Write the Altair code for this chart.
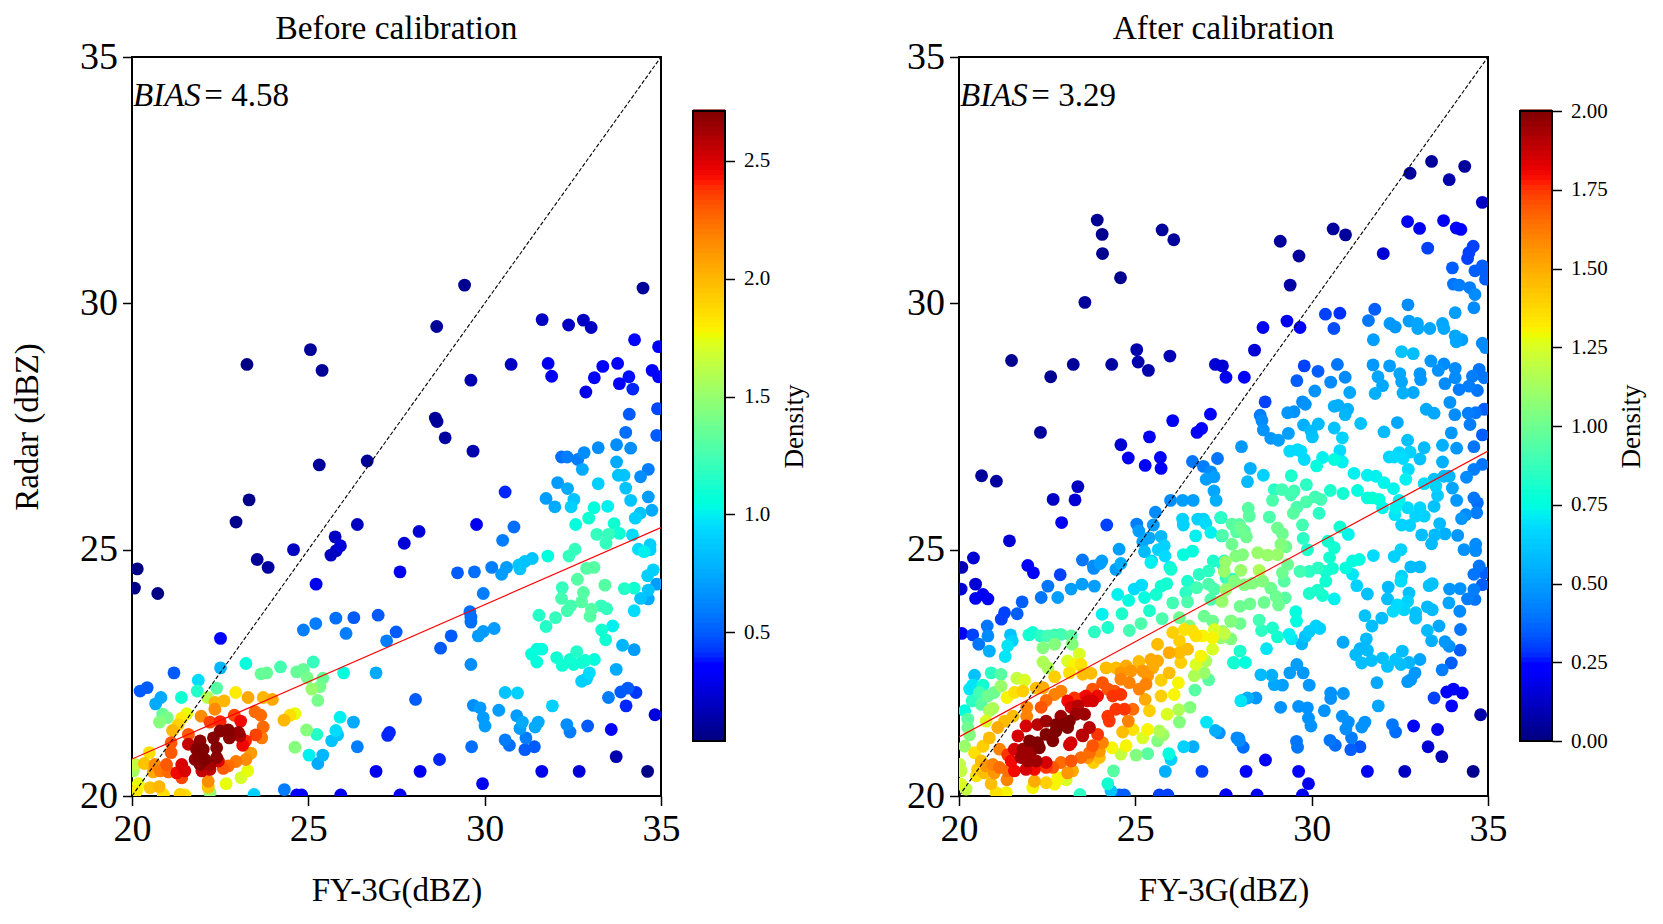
import altair as alt
import numpy as np
import pandas as pd

# (FY-3G dBZ, Radar dBZ, density)
left_upper = [(20.15,24.61,.05),(20.07,24.22,.05),(20.73,24.11,.05),(23.26,28.76,.05),(25.06,29.06,.1),(25.39,28.64,.1),(29.43,30.37,.08),(28.64,29.53,.1),(34.49,30.31,.1),(31.63,29.67,.2),(32.38,29.56,.2),(32.8,29.66,.2),(33.02,29.51,.2),(34.25,29.26,.35),(34.93,29.12,.3),(31.8,28.78,.3),(31.9,28.52,.3),(30.75,28.76,.2),(29.61,28.44,.15),(33.35,28.72,.35),(33.77,28.78,.35),(34.09,28.51,.38),(33.11,28.49,.35),(32.87,28.2,.3),(33.82,28.37,.37),(34.2,28.26,.4),(34.75,28.64,.35),(34.93,28.51,.35),(34.1,27.75,.5),(34.9,27.86,.45),(28.6,27.67,.1),(28.65,27.6,.1),(28.88,27.27,.12),(29.67,27.0,.15),(26.67,26.8,.1),(25.31,26.72,.1),(23.32,26.01,.07),(22.95,25.56,.07),(23.55,24.8,.1),(23.86,24.64,.12),(24.58,25.0,.2),(25.22,24.3,.3),(25.64,24.89,.2),(25.76,25.26,.2),(25.79,24.98,.2),(25.91,25.08,.25),(26.39,25.51,.2),(27.72,25.13,.25),(28.14,25.37,.25),(27.6,24.55,.3)]
left_mid = [(30.58,26.17,.4),(34.0,27.38,.55),(34.88,27.32,.5),(33.22,27.07,.65),(33.74,27.13,.65),(34.14,27.06,.65),(32.18,26.88,.55),(32.34,26.88,.6),(32.64,26.83,.6),(32.82,26.97,.65),(33.74,26.78,.75),(32.77,26.63,.75),(34.64,26.63,.6),(34.42,26.48,.65),(33.79,26.51,.85),(33.95,26.51,.85),(32.07,26.36,.7),(32.35,26.24,.75),(33.22,26.34,.9),(34.0,26.25,.85),(34.64,26.07,.7),(31.74,26.04,.7),(31.99,25.87,.75),(32.53,26.02,.85),(32.45,25.87,.9),(34.14,26.0,.85),(34.74,25.8,.75),(34.41,25.74,.85),(34.27,25.64,.9),(33.1,25.85,1.05),(33.49,25.88,1.0),(32.95,25.64,1.1),(32.58,25.51,1.05),(33.67,25.53,1.1),(33.18,25.31,1.2),(33.51,25.31,1.2),(33.44,25.13,1.2),(33.82,25.33,1.1),(34.19,25.3,.95),(34.36,25.01,.95),(34.52,24.96,1.0),(34.69,25.1,.9),(34.69,25.0,.9),(32.56,25.01,1.2),(32.39,24.87,1.2),(31.79,24.87,1.05),(31.35,24.82,.85),(31.14,24.76,.85),(30.97,24.69,.85),(30.62,24.64,.7),(30.2,24.64,.6),(30.83,25.46,.55),(30.51,25.19,.6),(29.77,25.51,.3)]
left_low = [(29.23,24.53,.5),(29.71,24.55,.55),(30.48,24.5,.7),(31.0,24.61,.85),(29.96,24.11,.6),(29.58,23.74,.55),(29.61,23.63,.55),(29.61,23.53,.55),(30.27,23.4,.7),(29.96,23.34,.7),(29.82,23.25,.7),(29.05,23.25,.5),(28.75,23.0,.5),(29.61,22.67,.65),(28.04,21.96,.5),(32.2,24.23,1.2),(32.18,24.01,1.25),(32.63,24.4,1.3),(32.8,24.13,1.3),(32.75,23.94,1.3),(32.44,23.86,1.25),(32.34,23.76,1.25),(32.99,23.65,1.3),(33.03,23.79,1.3),(33.3,23.86,1.2),(33.46,23.8,1.2),(33.41,24.28,1.3),(32.89,24.62,1.3),(33.1,24.64,1.3),(31.54,23.67,1.15),(32.01,23.62,1.2),(31.74,23.44,1.15),(33.32,23.37,1.1),(33.63,23.45,1.0),(33.43,23.17,1.1),(33.96,24.21,1.15),(34.24,24.22,1.1),(34.62,24.47,.9),(34.78,24.59,.9),(34.64,24.18,.85),(34.42,24.01,.85),(34.64,24.0,.75),(34.88,24.3,.7),(34.24,23.76,.95),(33.91,23.06,.8),(34.24,22.97,.7),(33.73,22.57,.75),(31.33,22.88,1.05),(31.48,22.98,1.05),(31.62,22.98,1.05),(31.48,22.72,1.05),(32.04,22.81,1.1),(32.2,22.65,1.1),(32.42,22.77,1.1),(32.61,22.93,1.15),(32.52,22.67,1.1),(32.75,22.71,1.1),(32.85,22.75,1.1),(33.11,22.77,1.05),(32.97,22.5,.95),(32.75,22.33,.9),(32.89,22.38,.9),(30.58,22.1,.85),(30.93,22.09,.9),(31.92,21.83,.9),(33.51,22.0,.6),(33.86,22.11,.5),(34.06,22.19,.5),(34.29,22.1,.42),(34.01,21.83,.4),(34.83,21.65,.25),(29.68,21.84,.65),(29.87,21.79,.7),(29.96,21.59,.7),(30.01,21.42,.7),(30.4,21.74,.7),(30.91,21.63,.7),(31.07,21.5,.75),(31.0,21.37,.7),(31.17,21.18,.6),(31.52,21.5,.75),(31.43,21.4,.75),(32.33,21.45,.65),(32.42,21.3,.6),(32.92,21.42,.5),(33.59,21.35,.35),(30.58,21.14,.6),(30.7,21.03,.55),(31.14,20.94,.5),(31.41,21.0,.5),(29.63,21.0,.55),(28.72,20.74,.4),(28.17,20.5,.3),(31.62,20.5,.3),(32.68,20.5,.25),(33.73,20.8,.15),(34.62,20.5,.05),(29.94,20.25,.3)]
left_cluster = [(22.51,23.2,.35),(21.19,22.5,.5),(20.23,22.13,.5),(20.43,22.2,.5),(24.86,23.37,.6),(25.21,23.5,.6),(25.78,23.61,.55),(26.29,23.62,.5),(26.07,23.3,.6),(26.98,23.67,.5),(27.49,23.33,.5),(27.22,23.15,.6),(22.51,22.6,.8),(23.23,22.69,1.05),(21.88,22.35,.95),(21.85,22.13,1.15),(21.4,22.0,1.1),(20.82,22.0,.75),(20.67,21.87,.75),(22.4,22.19,1.3),(22.14,22.0,1.6),(22.94,22.1,1.8),(23.29,22.0,2.05),(23.72,22.0,2.0),(23.98,21.96,2.05),(22.35,21.9,2.0),(22.61,21.93,2.0),(22.35,21.76,2.15),(21.96,21.62,2.15),(20.87,21.66,1.35),(21.0,21.59,1.4),(20.78,21.5,1.45),(21.55,21.67,1.75),(21.41,21.58,1.8),(21.31,21.45,1.9),(21.15,21.33,2.0),(22.9,21.64,2.35),(23.08,21.52,2.45),(22.21,21.5,2.35),(22.5,21.51,2.4),(23.49,21.71,2.25),(23.65,21.64,2.25),(23.72,21.4,2.25),(23.51,21.24,2.35),(23.68,21.18,2.2),(23.22,21.12,2.4),(23.14,21.03,2.45),(21.6,21.25,2.3),(21.6,21.05,2.55),(21.11,21.08,2.3),(21.11,20.88,2.3),(20.49,20.88,1.85),(22.5,21.32,2.7),(22.73,21.34,2.7),(23.02,21.29,2.65),(23.06,21.22,2.6),(22.76,21.18,2.68),(22.31,21.18,2.7),(21.93,21.12,2.68),(22.4,20.98,2.7),(22.02,20.95,2.71),(21.83,20.95,2.7),(21.93,20.78,2.7),(22.07,20.74,2.71),(22.4,20.78,2.68),(21.79,20.74,2.68),(21.93,20.64,2.68),(22.21,20.63,2.62),(21.98,20.51,2.55),(22.21,20.54,2.55),(22.45,20.71,2.5),(21.41,20.64,2.5),(21.27,20.47,2.45),(21.5,20.51,2.5),(21.41,20.37,2.35),(20.98,20.64,2.3),(21.03,20.49,2.25),(20.8,20.51,2.2),(20.65,20.64,2.15),(20.6,20.49,2.05),(22.59,20.56,2.3),(22.73,20.61,2.25),(22.95,20.7,2.2),(23.23,20.74,2.15),(23.37,20.87,2.1),(22.16,20.3,2.15),(22.16,20.18,1.95),(23.28,20.51,1.75),(23.09,20.37,1.7),(22.67,20.25,1.75),(20.35,20.66,1.95),(20.09,20.64,1.65),(20.04,20.51,1.55),(20.18,20.25,1.75),(20.51,20.17,1.95),(20.77,20.19,2.0),(20.13,20.1,1.8),(20.89,20.03,1.85),(21.36,20.03,1.9),(21.5,20.02,1.85),(22.21,20.07,1.5),(24.31,21.54,2.0),(24.48,21.64,1.85),(24.62,21.67,1.75),(23.46,20.03,.9),(24.32,20.13,.6),(24.67,20.02,.35),(24.81,20.02,.35),(25.92,20.02,.3),(27.6,20.02,.3),(23.66,22.48,1.35),(23.82,22.5,1.35),(24.21,22.62,1.25),(24.67,22.52,1.35),(24.86,22.57,1.35),(25.14,22.72,1.2),(24.97,22.4,1.4),(25.41,22.39,1.35),(25.33,22.22,1.4),(25.1,22.17,1.5),(25.27,21.94,1.4),(26.0,22.5,1.05),(26.92,22.5,.75),(25.9,21.6,1.0),(26.28,21.5,.75),(24.95,21.34,1.45),(25.24,21.25,1.15),(25.78,21.33,.95),(25.83,21.24,.85),(25.66,21.12,.85),(26.39,21.0,.6),(27.3,21.29,.4),(27.25,21.23,.4),(24.62,20.99,1.45),(25.02,20.83,1.0),(25.41,20.83,.8),(25.27,20.66,.75),(26.92,20.5,.3)]

right_upper = [(23.92,31.69,.03),(24.06,31.4,.03),(24.07,31.01,.03),(24.58,30.52,.03),(23.57,30.02,.05),(25.76,31.49,.05),(26.09,31.29,.05),(21.49,28.84,.03),(22.6,28.51,.03),(23.24,28.76,.05),(24.33,28.76,.06),(25.04,29.06,.08),(25.08,28.81,.08),(25.37,28.64,.08),(25.98,28.93,.1),(27.27,28.76,.15),(27.47,28.73,.15),(27.57,28.5,.2),(22.31,27.38,.05),(27.13,27.75,.25),(26.06,27.62,.2),(26.88,27.46,.22),(26.75,27.38,.22),(25.4,27.29,.2),(24.59,27.13,.15),(24.8,26.86,.2),(25.28,26.71,.25),(25.71,26.87,.25),(25.73,26.65,.25),(26.62,26.79,.4),(26.93,26.69,.42),(27.33,26.85,.4),(27.14,26.58,.45),(27.01,26.43,.5),(27.23,26.48,.5),(27.23,26.19,.52),(27.29,26.0,.55),(20.64,26.5,.05),(21.06,26.39,.06),(23.37,26.28,.12),(22.67,26.02,.12),(23.29,26.01,.15),(26.0,26.0,.45),(26.34,26.0,.5),(26.64,26.0,.5),(25.57,25.76,.45),(22.91,25.55,.2),(24.19,25.5,.3),(25.04,25.52,.42),(25.51,25.5,.5),(25.1,25.38,.5),(25.21,25.16,.52),(25.39,25.24,.52),(25.73,25.27,.58),(26.34,25.62,.65),(26.36,25.5,.65),(26.77,25.62,.65),(26.93,25.62,.65),(27.0,25.53,.68),(27.42,25.65,.68),(26.71,25.28,.72),(27.14,25.35,.72),(27.45,25.28,.72),(21.43,25.18,.15),(20.41,24.83,.15),(21.95,24.68,.25),(20.08,24.64,.1),(24.54,25.01,.5),(23.5,24.79,.4),(24.05,24.77,.5),(23.81,24.67,.45),(24.59,24.72,.55),(25.26,24.96,.58),(25.82,25.08,.65),(25.65,25.0,.65),(25.84,24.87,.68),(25.46,24.77,.65),(25.98,24.64,.72),(26.36,24.9,.75),(26.62,24.97,.75),(27.21,24.77,.82),(27.52,24.77,.82)]
right_left_low = [(20.06,24.2,.15),(20.47,24.3,.15),(20.47,24.01,.2),(20.68,24.09,.2),(20.82,24.0,.2),(21.29,23.72,.3),(21.2,23.59,.3),(21.65,23.7,.35),(21.79,23.94,.35),(22.33,24.03,.4),(22.52,24.26,.4),(22.8,24.03,.5),(22.87,24.49,.3),(22.11,24.53,.25),(23.18,24.2,.5),(23.49,24.3,.5),(23.84,24.26,.5),(23.82,24.62,.45),(24.0,24.72,.5),(24.45,24.6,.5),(24.5,24.09,.72),(24.97,24.2,.68),(25.18,24.28,.68),(24.81,23.97,.75),(25.26,24.03,.75),(25.4,23.76,.82),(25.59,24.09,.8),(25.73,24.26,.8),(25.89,24.31,.8),(26.01,24.6,.8),(25.44,24.74,.72),(24.06,23.69,.72),(24.62,23.7,.82),(24.22,23.42,.82),(23.84,23.33,.85),(25.16,23.5,.92),(24.83,23.36,.9),(26.06,23.92,.9),(25.76,23.6,.92),(26.48,24.36,.82),(26.43,24.13,.85),(26.48,23.94,.92),(26.74,24.23,.9),(26.81,24.5,.85),(27.08,24.57,.85),(27.08,24.3,.92),(27.24,24.2,.92),(27.45,23.96,.9),(27.14,23.99,.92),(27.57,24.43,.85),(27.66,24.33,.9),(27.47,24.7,.8),(27.76,24.4,.85),(26.25,23.62,1.0),(26.53,23.45,1.05),(26.95,23.65,1.0),(27.19,23.55,1.0),(27.71,23.55,.9),(27.8,22.7,.75)]
right_band = [(26.06,23.32,1.4),(26.25,23.15,1.4),(25.63,23.08,1.45),(25.96,22.91,1.5),(26.25,22.91,1.45),(26.48,22.98,1.45),(26.39,23.38,1.35),(26.62,23.35,1.35),(26.72,23.25,1.35),(26.91,23.25,1.3),(27.19,23.21,1.3),(27.24,23.38,1.25),(27.52,23.3,1.2),(27.19,22.98,1.25),(26.86,22.84,1.3),(26.29,22.71,1.4),(26.72,22.67,1.25),(27.0,22.74,1.15),(26.95,22.5,1.1),(26.67,22.44,1.15),(27.08,22.36,.95),(26.69,22.15,.95),(24.17,22.6,1.45),(24.45,22.6,1.45),(25.1,22.73,1.45),(25.44,22.77,1.5),(25.63,22.74,1.5),(24.74,22.64,1.5),(24.59,22.5,1.55),(24.88,22.54,1.55),(25.21,22.54,1.55),(25.35,22.44,1.55),(25.49,22.6,1.5),(24.59,22.37,1.6),(24.83,22.3,1.6),(25.11,22.17,1.6),(25.3,22.27,1.6),(25.96,22.5,1.45),(25.73,22.35,1.4),(26.22,22.3,1.3),(26.1,22.06,1.3),(25.73,22.03,1.4),(25.28,21.96,1.5),(25.4,21.73,1.4),(23.13,22.5,1.35),(23.08,22.74,1.25),(23.41,22.88,1.25),(23.27,22.67,1.3),(23.46,22.67,1.35),(23.51,22.47,1.45),(23.74,22.49,1.45),(22.71,22.42,1.4),(22.38,22.72,1.15),(22.52,22.6,1.15),(22.71,23.08,1.05),(22.38,23.01,1.05),(23.21,23.08,1.05),(23.18,23.25,.95),(22.89,23.28,.9),(22.71,23.27,.9),(22.52,23.25,.9),(22.31,23.25,.85),(22.09,23.32,.8),(21.98,23.27,.8),(21.46,23.27,.6),(21.51,23.15,.65),(21.38,23.05,.7),(21.31,22.83,.7),(20.86,22.94,.55),(20.8,23.45,.4),(20.82,23.25,.45),(20.56,23.08,.4),(20.39,23.27,.3),(20.08,23.3,.2)]
right_corner = [(20.44,22.45,.6),(20.91,22.5,.85),(21.19,22.47,.95),(20.3,22.17,.7),(20.39,22.25,.7),(20.68,22.25,.8),(20.16,21.73,.75),(20.58,22.1,.9),(20.37,21.93,.85),(20.63,21.86,.95),(20.82,22.03,1.0),(21.0,22.1,1.0),(21.19,22.23,1.1),(21.64,22.39,1.2),(21.86,22.35,1.25),(21.36,22.0,1.3),(21.57,22.1,1.35),(21.81,22.13,1.4),(22.19,22.19,1.45),(22.38,22.2,1.5),(20.86,21.73,1.15),(20.96,21.78,1.15),(20.77,21.52,1.25),(20.25,21.56,.95),(20.25,21.39,1.0),(20.3,21.24,1.05),(20.16,21.01,1.1),(20.02,20.64,1.2),(20.06,20.51,1.2),(20.06,20.24,1.25),(20.2,20.14,1.2),(21.53,21.62,1.45),(21.29,21.52,1.45),(21.1,21.39,1.5),(20.86,21.18,1.45),(20.68,21.01,1.4),(20.44,20.88,1.35),(21.15,20.95,1.6),(20.63,20.71,1.45),(20.53,20.54,1.4),(20.77,20.61,1.55),(20.96,20.64,1.6),(20.72,20.47,1.45),(21.0,20.47,1.55),(20.91,20.25,1.45),(20.49,20.41,1.35),(21.36,20.33,1.6),(21.38,20.51,1.65),(21.15,20.58,1.65),(21.05,20.07,1.35),(21.34,20.07,1.3)]
right_peak = [(21.92,21.8,1.6),(22.33,21.8,1.7),(21.92,21.62,1.6),(22.47,21.94,1.65),(22.71,22.06,1.6),(22.89,22.13,1.6),(23.08,21.93,1.8),(23.27,21.99,1.75),(23.18,21.8,1.85),(23.51,21.99,1.75),(23.79,22.17,1.7),(23.6,22.03,1.8),(23.93,22.03,1.8),(24.07,22.3,1.7),(24.22,22.17,1.7),(24.41,22.13,1.7),(24.36,22.03,1.75),(24.59,22.06,1.75),(24.22,21.62,1.75),(24.45,21.76,1.75),(24.69,21.76,1.75),(24.93,21.76,1.65),(24.26,21.52,1.75),(24.8,21.52,1.6),(24.64,21.3,1.45),(24.93,21.35,1.35),(23.37,21.83,1.9),(23.65,21.93,1.85),(23.79,21.93,1.85),(23.7,21.39,1.9),(23.49,21.24,1.9),(23.93,21.25,1.75),(24.07,21.08,1.6),(23.13,21.04,1.85),(24.34,20.98,1.3),(23.79,21.02,1.7),(23.98,20.91,1.55),(23.7,20.88,1.65),(23.98,20.78,1.45),(23.65,20.78,1.55),(23.81,20.68,1.4),(23.22,20.51,1.5),(22.89,20.68,1.65),(22.66,20.58,1.7),(22.47,20.58,1.75),(23.08,20.47,1.55),(23.46,20.78,1.65),(23.18,20.71,1.7),(22.14,20.3,1.5),(22.47,20.27,1.4),(22.09,20.17,1.3),(22.8,20.37,1.3),(23.04,20.33,1.25),(22.71,20.24,1.3),(22.23,21.45,1.9),(22.47,21.52,1.95),(22.89,21.62,1.95),(23.13,21.52,2.0),(23.32,21.66,1.95),(23.56,21.66,1.95),(21.9,21.42,1.85),(23.08,21.39,2.0),(22.75,21.32,2.0),(22.47,21.25,2.0),(22.23,21.08,2.0),(22.0,21.12,2.0),(22.28,20.98,2.0),(22.04,20.91,1.95),(21.81,20.95,1.95),(21.67,21.22,1.85),(21.57,20.95,1.85),(21.76,20.78,1.95),(21.95,20.71,1.95),(22.19,20.71,1.95),(21.48,20.71,1.8),(21.38,20.84,1.75),(21.57,20.51,1.8),(21.9,20.54,1.85),(22.14,20.54,1.8),(22.47,20.68,1.85),(22.75,21.45,2.0),(22.99,21.45,2.0),(22.66,21.12,2.0),(23.51,21.22,1.9),(23.18,21.08,1.85)]
right_lower_mid = [(25.02,20.83,1.05),(25.35,20.86,.95),(25.21,21.18,1.25),(25.35,21.35,1.3),(25.68,21.32,1.15),(25.79,21.24,1.1),(25.63,21.12,1.05),(24.74,21.02,1.3),(24.59,20.85,1.2),(24.38,20.51,.95),(24.22,20.25,.8),(24.31,20.1,.6),(23.43,20.03,.85),(24.69,20.02,.35),(24.55,20.02,.35),(25.68,20.02,.3),(25.92,20.02,.3),(27.57,20.02,.2),(25.85,20.5,.55),(26.89,20.5,.3),(25.95,20.86,.75),(26.01,20.74,.65),(26.37,21.0,.65),(26.64,21.0,.55),(27.02,21.5,.7),(27.27,21.33,.55),(27.88,21.18,.45),(27.95,21.12,.45),(26.55,21.8,1.05),(26.23,21.75,1.15),(26.25,21.5,1.05),(25.9,21.66,1.25),(27.99,21.93,.7)]
right_top_right = [(32.79,32.64,.05),(33.4,32.88,.05),(34.34,32.78,.05),(33.9,32.51,.08),(34.84,32.05,.12),(30.61,31.51,.05),(30.96,31.39,.05),(29.11,31.26,.05),(29.64,30.96,.05),(29.39,30.37,.07),(32.03,31.01,.15),(32.72,31.66,.2),(33.06,31.52,.2),(33.74,31.68,.2),(34.1,31.53,.25),(34.23,31.5,.25),(33.29,31.12,.3),(34.58,31.16,.3),(34.46,31.03,.3),(34.42,30.91,.3),(34.84,30.76,.35),(33.99,30.72,.35),(34.63,30.66,.35),(34.93,30.62,.35),(34.93,30.49,.35),(34.02,30.39,.4),(34.18,30.37,.42),(34.48,30.32,.42),(34.63,30.18,.45),(34.6,29.91,.45),(28.62,29.51,.2),(29.3,29.64,.2),(29.67,29.51,.25),(30.39,29.78,.3),(30.8,29.8,.28),(30.63,29.49,.32),(31.79,29.88,.35),(31.61,29.65,.4),(32.73,29.97,.45),(32.22,29.59,.48),(32.37,29.52,.48),(32.76,29.64,.5),(33.0,29.59,.52),(33.01,29.49,.52),(33.35,29.49,.52),(33.71,29.59,.52),(33.75,29.49,.53),(34.07,29.81,.5),(31.75,29.26,.5),(34.07,29.34,.52),(34.1,29.22,.52),(34.26,29.26,.5),(28.38,29.05,.15),(34.84,29.19,.45),(34.93,29.1,.45),(32.55,29.02,.6),(32.88,28.98,.59)]
right_mid_a = [(28.09,28.5,.22),(29.79,28.73,.3),(30.18,28.62,.35),(29.58,28.43,.35),(30.73,28.76,.4),(30.95,28.5,.45),(30.54,28.4,.45),(30.09,28.22,.47),(31.08,28.19,.52),(28.68,28.0,.3),(29.74,28.0,.45),(29.82,27.95,.47),(28.54,27.73,.42),(28.59,27.62,.45),(28.63,27.43,.47),(28.84,27.26,.48),(29.06,27.22,.5),(29.34,27.36,.5),(29.32,27.78,.48),(29.5,27.8,.47),(30.64,27.91,.55),(30.75,27.93,.55),(31.02,27.85,.55),(30.95,27.74,.57),(29.77,27.53,.55),(30.19,27.55,.58),(29.98,27.41,.58),(30.02,27.29,.6),(30.64,27.47,.6),(30.87,27.27,.65),(31.39,27.56,.6),(32.05,27.39,.58),(32.43,27.58,.53),(31.74,28.75,.48),(32.21,28.73,.5),(31.88,28.51,.52),(32.01,28.33,.53),(31.8,28.17,.55),(32.5,28.57,.52),(32.55,28.41,.52),(32.59,28.18,.55),(32.88,28.19,.53),(33.07,28.57,.48),(33.09,28.45,.48),(33.38,28.83,.48),(33.59,28.64,.47),(33.75,28.77,.45),(34.07,28.68,.45),(34.07,28.49,.45),(33.78,28.37,.45),(34.18,28.25,.42),(34.56,28.52,.42),(34.75,28.66,.4),(34.46,28.32,.42),(34.7,28.23,.4),(34.89,28.49,.4),(33.25,27.85,.53),(33.47,27.77,.53),(33.92,27.99,.47),(34.06,27.74,.45),(34.44,27.77,.42),(34.65,27.78,.4),(34.49,27.54,.42),(34.89,27.85,.35),(33.96,27.37,.48),(34.84,27.33,.35),(34.6,27.09,.4),(34.11,27.06,.48),(33.71,27.12,.55),(33.19,27.07,.58),(32.72,27.22,.6),(32.79,26.98,.65),(32.48,26.97,.66),(32.2,26.88,.66),(32.34,26.88,.68),(32.59,26.85,.68),(33.07,26.84,.6),(32.74,26.63,.68),(32.67,26.43,.72),(33.71,26.78,.55),(34.84,26.73,.4),(34.6,26.63,.42),(34.39,26.47,.45),(33.99,26.25,.52),(33.9,26.49,.57),(33.75,26.49,.58),(33.47,26.43,.6),(33.19,26.34,.68),(33.52,26.29,.65),(33.57,26.1,.63),(34.11,26.0,.48),(33.47,25.88,.6),(34.6,26.05,.4),(34.7,25.95,.38),(34.68,25.75,.42),(34.37,25.71,.45),(34.25,25.63,.48)]
right_mid_b = [(29.38,27.0,.68),(29.6,27.03,.68),(29.69,27.0,.68),(29.79,26.83,.68),(30.31,26.87,.72),(30.14,26.7,.75),(30.64,26.83,.75),(30.8,27.01,.68),(30.87,26.78,.72),(31.2,26.55,.72),(31.58,26.51,.72),(31.82,26.49,.72),(32.05,26.36,.73),(32.32,26.24,.73),(28.01,27.09,.48),(28.26,26.65,.55),(28.63,26.51,.65),(28.18,26.38,.58),(29.42,26.5,.82),(29.85,26.32,.85),(28.94,26.22,.85),(29.16,26.22,.9),(29.5,26.19,.9),(29.41,26.11,.9),(28.89,26.0,.92),(30.53,26.2,.82),(30.89,26.14,.8),(31.3,26.2,.75),(31.58,26.05,.75),(31.91,26.02,.75),(31.72,26.05,.78),(32.48,26.0,.72),(32.01,25.85,.73),(32.38,25.85,.72),(32.36,25.71,.7),(32.72,25.85,.68),(33.07,25.85,.66),(33.19,25.68,.65),(32.95,25.68,.66),(32.55,25.5,.65),(32.78,25.49,.65),(30.1,26.07,.9),(30.26,26.02,.9),(29.85,25.97,.92),(29.58,25.86,.92),(29.48,25.74,.95),(30.21,25.74,.85),(33.63,25.53,.58),(33.12,25.3,.59),(33.49,25.3,.58),(33.78,25.32,.55),(33.4,25.12,.58),(34.14,25.29,.48),(34.32,25.0,.47),(34.65,25.11,.45),(34.65,24.98,.45),(34.75,24.67,.4),(34.89,24.53,.35),(30.8,25.46,.8),(31.04,25.31,.73),(30.46,25.17,.8),(30.64,25.04,.8),(29.88,25.0,.82),(29.76,25.23,.85),(29.74,25.5,.9),(28.8,25.66,.92),(28.2,25.84,.95),(28.23,25.68,.95),(27.43,25.65,.85),(27.74,25.52,.95),(27.95,25.51,.95),(27.99,25.44,1.0),(28.09,25.38,.95),(27.47,25.29,.92),(28.15,25.26,1.0),(27.87,25.36,.95),(29.03,25.44,1.0),(29.17,25.32,1.0),(27.74,25.11,1.0),(29.27,25.06,1.0),(29.13,25.11,1.05),(28.47,24.94,1.1),(28.75,24.89,1.1),(29.03,24.9,1.1),(28.04,24.9,1.05),(27.85,24.87,1.05),(27.55,24.75,1.1),(27.99,24.58,1.1),(27.52,24.56,1.1),(28.51,24.58,1.15),(29.32,24.7,1.0),(29.17,24.53,1.0),(29.67,24.56,.9),(29.93,24.56,.85),(30.18,24.63,.85),(30.4,24.56,.8),(30.59,24.62,.8),(30.51,24.84,.8),(30.97,24.63,.75),(31.16,24.77,.75),(31.35,24.8,.75),(31.75,24.88,.68),(32.34,24.86,.65),(32.53,25.0,.65),(32.81,24.65,.58),(33.07,24.65,.58),(31.16,24.5,.7),(32.55,24.46,.65),(34.6,24.5,.4)]
right_low = [(29.22,24.36,.95),(30.4,24.36,.8),(29.93,24.11,.82),(30.17,24.18,.82),(30.31,24.07,.8),(30.64,24.0,.72),(31.28,24.27,.65),(31.58,24.1,.6),(32.17,24.24,.58),(32.15,24.0,.59),(32.53,24.36,.68),(32.76,24.12,.6),(32.72,23.95,.65),(32.43,23.88,.68),(32.31,23.75,.68),(32.62,23.78,.66),(32.95,23.72,.6),(32.95,23.61,.6),(33.28,23.84,.58),(33.42,23.78,.58),(33.33,24.27,.6),(33.42,24.31,.6),(33.91,24.2,.48),(34.21,24.21,.47),(33.89,23.92,.52),(34.2,23.75,.45),(34.42,24.0,.42),(34.6,24.19,.42),(34.84,24.29,.35),(34.63,23.99,.4),(31.51,23.66,.6),(31.71,23.45,.59),(31.99,23.61,.59),(33.28,23.36,.58),(33.61,23.45,.53),(34.22,23.38,.4),(33.4,23.15,.55),(33.78,23.13,.48),(33.9,23.04,.47),(34.21,22.96,.35),(31.55,23.19,.58),(30.89,23.12,.53),(31.37,22.99,.57),(31.25,22.87,.58),(31.58,22.96,.58),(31.42,22.7,.59),(31.7,22.75,.59),(32.01,22.8,.59),(32.15,22.63,.6),(32.38,22.77,.6),(32.57,22.94,.59),(32.53,22.67,.59),(32.76,22.71,.57),(33.07,22.77,.52),(32.93,22.5,.48),(32.81,22.36,.48),(32.72,22.32,.48),(33.96,22.7,.35),(33.7,22.56,.42),(31.85,22.3,.53),(29.55,23.74,.75),(29.57,23.55,.75),(30.12,23.45,.65),(30.23,23.4,.65),(29.93,23.34,.63),(29.82,23.24,.6),(29.72,23.09,.57),(29.36,23.28,.72),(29.43,23.19,.7),(28.51,23.57,.9),(28.58,23.36,.85),(28.89,23.41,.82),(29.03,23.23,.8),(28.72,22.99,.7),(27.97,23.85,1.0),(28.25,23.9,1.0),(28.65,23.93,1.0),(29.06,23.88,1.0),(29.25,24.02,.95),(28.99,24.05,1.0),(28.84,24.22,1.0),(28.61,24.36,1.05),(28.32,24.32,1.05),(28.09,24.29,1.05),(27.8,24.36,1.05),(27.57,24.19,1.1),(27.46,23.95,1.1),(27.71,23.55,1.05),(27.97,23.5,1.0),(27.47,23.34,1.1),(27.43,23.21,1.1),(27.71,23.19,1.05),(27.97,22.94,.82),(27.78,22.71,.8),(28.12,22.71,.75),(28.56,22.46,.58),(28.87,22.45,.55),(28.94,22.26,.52),(29.17,22.25,.5),(29.38,22.5,.5),(29.58,22.67,.5),(29.76,22.5,.48),(29.93,22.25,.48),(28.02,21.94,.55),(28.18,21.99,.55),(28.42,21.99,.48),(29.12,21.8,.47),(30.54,22.09,.47),(30.54,21.98,.47),(30.9,22.08,.48),(29.63,21.82,.47),(29.88,21.79,.47),(29.91,21.58,.47),(29.98,21.42,.47),(30.36,21.73,.47),(30.87,21.62,.47),(31.04,21.5,.46),(30.97,21.36,.46),(31.13,21.18,.42),(31.51,21.5,.47),(31.42,21.4,.47),(31.89,21.83,.52),(33.47,21.99,.3),(33.83,22.11,.25),(34.02,22.17,.25),(34.27,22.09,.22),(33.97,21.83,.22),(34.79,21.65,.07),(32.29,21.45,.4),(32.38,21.3,.38),(32.89,21.42,.25),(33.57,21.35,.2),(33.3,21.0,.15),(33.69,20.8,.1),(34.58,20.5,.03),(32.64,20.5,.12),(31.58,20.5,.2),(29.63,20.5,.22),(28.14,20.5,.22),(28.69,20.73,.25),(29.91,20.25,.2),(27.57,20.02,.2),(28.45,20.02,.2),(29.74,20.02,.2),(27.38,21.28,.47),(27.93,21.17,.4),(28.06,20.99,.38),(29.57,21.11,.4),(29.6,20.99,.4),(30.52,21.13,.4),(30.67,21.03,.38),(31.11,20.94,.35),(31.37,21.0,.33)]

left_fit = [(20, 20.75), (35, 25.45)]
right_fit = [(20, 21.2), (35, 27.0)]
one_to_one = [(20, 20), (35, 35)]
axis_ticks = [20, 25, 30, 35]
left_range = (0.04, 2.71)
right_range = (0.0, 2.0)
left_bar_ticks = [0.5, 1.0, 1.5, 2.0, 2.5]
right_bar_ticks = [0.0, 0.25, 0.5, 0.75, 1.0, 1.25, 1.5, 1.75, 2.0]

# matplotlib "jet" knots: position, r, g, b
jet_pos = [0, .11, .125, .34, .35, .375, .64, .65, .66, .89, .91, 1]
jet_r = [0, 0, 0, 0, 0, 0, .9, .97, 1, 1, .91, .5]
jet_g = [0, 0, 0, .86, .9, 1, 1, .96, .92, .07, 0, 0]
jet_b = [.5, 1, 1, 1, .97, .87, .03, 0, 0, 0, 0, 0]
jet_hex = ["#%02x%02x%02x" % (round(r*255), round(g*255), round(b*255)) for r, g, b in zip(jet_r, jet_g, jet_b)]

FONT = "Liberation Serif"
PW, PH = 529, 739
BAR = 32
GAP = 32


def jet_scale(lo, hi):
    return alt.Scale(domain=[lo + p*(hi-lo) for p in jet_pos], range=jet_hex, clamp=True)


def panel(points, fit, bias, title, lo, hi, y_title):
    df = pd.DataFrame(points, columns=["fy", "radar", "density"]).sort_values("density")
    ax_x = alt.Axis(values=axis_ticks, format="d", grid=False, domain=False, tickSize=9.5, tickWidth=1.5, tickColor="black",
                    labelFont=FONT, labelFontSize=38, labelColor="black", labelPadding=5, labelFlush=False, labelOverlap=False,
                    title="FY-3G(dBZ)", titleFont=FONT, titleFontSize=33, titleFontWeight="normal", titleColor="black", titlePadding=26)
    ax_y = alt.Axis(values=axis_ticks, format="d", grid=False, domain=False, tickSize=9.5, tickWidth=1.5, tickColor="black",
                    labelFont=FONT, labelFontSize=38, labelColor="black", labelPadding=5, labelFlush=False, labelOverlap=False,
                    title=y_title, titleFont=FONT, titleFontSize=33, titleFontWeight="normal", titleColor="black", titlePadding=35)
    sx = alt.Scale(domain=[20, 35], nice=False)
    sy = alt.Scale(domain=[20, 35], nice=False)
    X = alt.X("fy:Q", scale=sx, axis=ax_x)
    Y = alt.Y("radar:Q", scale=sy, axis=ax_y)
    pts = alt.Chart(df).mark_circle(size=165, opacity=1, clip=True).encode(
        x=X, y=Y, color=alt.Color("density:Q", scale=jet_scale(lo, hi), legend=None), order=alt.Order("density:Q"))
    diag = alt.Chart(pd.DataFrame(one_to_one, columns=["fy", "radar"])).mark_line(
        color="black", strokeWidth=1.1, strokeDash=[4, 2], clip=True).encode(x=X, y=Y)
    reg = alt.Chart(pd.DataFrame(fit, columns=["fy", "radar"])).mark_line(
        color="#ff0000", strokeWidth=1.2, clip=True).encode(x=X, y=Y)
    t1 = alt.Chart(pd.DataFrame({"fy": [20.03], "radar": [34.2], "t": ["BIAS"]})).mark_text(
        font=FONT, fontSize=33, fontStyle="italic", align="left", baseline="middle", color="black").encode(x=X, y=Y, text="t:N")
    t2 = alt.Chart(pd.DataFrame({"fy": [22.05], "radar": [34.2], "t": [f"= {bias}"]})).mark_text(
        font=FONT, fontSize=33, align="left", baseline="middle", color="black").encode(x=X, y=Y, text="t:N")
    return alt.layer(pts, diag, reg, t1, t2).properties(
        width=PW, height=PH,
        title=alt.TitleParams(title, font=FONT, fontSize=33.4, fontWeight="normal", color="black", anchor="middle", offset=-8),
        view=alt.ViewBackground(stroke="black", strokeWidth=2))


def colorbar(lo, hi, ticks, fmt, width, axis_offset, title_pad):
    edges = np.linspace(lo, hi, 129)
    bins = pd.DataFrame({"v0": edges[:-1], "v1": edges[1:] + (hi-lo)/400, "mid": (edges[:-1] + edges[1:]) / 2})
    sy = alt.Scale(domain=[lo, hi], range=[684, 54], nice=False, zero=False)
    ax = alt.Axis(orient="right", values=ticks, format=fmt, grid=False, domain=False, tickSize=9.5, tickWidth=1.5, tickColor="black",
                  offset=axis_offset, labelFont=FONT, labelFontSize=21, labelColor="black", labelPadding=9, labelFlush=False, labelOverlap=False,
                  title="Density", titleFont=FONT, titleFontSize=27, titleFontWeight="normal", titleColor="black", titlePadding=title_pad, titleAngle=270)
    bar = alt.Chart(bins).mark_rect(clip=False).encode(
        x=alt.value(0), x2=alt.value(BAR),
        y=alt.Y("v0:Q", scale=sy, axis=ax), y2="v1:Q",
        color=alt.Color("mid:Q", scale=jet_scale(lo, hi), legend=None))
    frame = alt.Chart(pd.DataFrame({"v0": [lo], "v1": [hi]})).mark_rect(fill=None, stroke="black", strokeWidth=2).encode(
        x=alt.value(0), x2=alt.value(BAR), y=alt.Y("v0:Q", scale=sy, axis=ax), y2="v1:Q")
    return alt.layer(bar, frame).properties(width=width, height=PH, view=alt.ViewBackground(stroke=None)).resolve_scale(color="independent")


left_pts = left_upper + left_mid + left_low + left_cluster
right_pts = right_upper + right_left_low + right_band + right_corner + right_peak + right_lower_mid + right_top_right + right_mid_a + right_mid_b + right_low

left_panel = panel(left_pts, left_fit, "4.58", "Before calibration", *left_range, "Radar (dBZ)")
right_panel = panel(right_pts, right_fit, "3.29", "After calibration", *right_range, "")
BAR_SLOT = 234
bar_l = colorbar(*left_range, left_bar_ticks, ".1f", BAR_SLOT, -(BAR_SLOT - BAR), 39)
bar_r = colorbar(*right_range, right_bar_ticks, ".2f", BAR, 0, 38)

chart = alt.hconcat(left_panel, bar_l, right_panel, bar_r, spacing=GAP, bounds="flush").resolve_scale(
    color="independent", x="independent", y="independent"
).properties(padding={"left": 2, "top": 2, "right": 5, "bottom": 5})

chart.save("out.html", embed_options={"renderer": "svg", "actions": False})
